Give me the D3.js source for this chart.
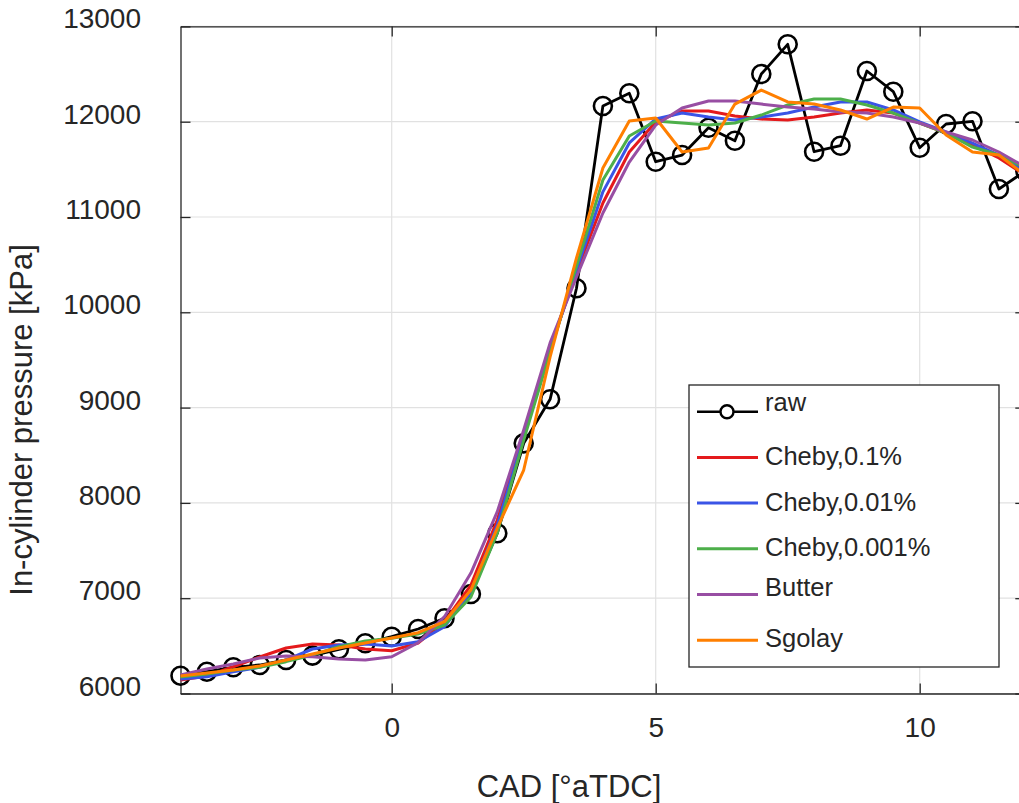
<!DOCTYPE html>
<html>
<head>
<meta charset="UTF-8">
<style>
  body { margin: 0; background: #fff; }
  svg { display: block; }
  text { font-family: "Liberation Sans", Arial, sans-serif; fill: #262626; }
</style>
</head>
<body>
<svg id="chart" width="1019" height="803"></svg>
<script src="https://cdn.jsdelivr.net/npm/d3@7/dist/d3.min.js"></script>
<script>
// crank angle samples [deg aTDC]
const cad = [-4, -3.5, -3, -2.5, -2, -1.5, -1, -0.5, 0, 0.5, 1, 1.5, 2, 2.5, 3, 3.5,
             4, 4.5, 5, 5.5, 6, 6.5, 7, 7.5, 8, 8.5, 9, 9.5, 10, 10.5, 11, 11.5, 12];

// measured pressure [kPa]
const raw = [6187, 6229, 6275, 6299, 6352, 6397, 6464, 6527, 6596, 6677, 6789, 7044, 7681, 8625, 9087, 10252,
             12165, 12298, 11580, 11650, 11937, 11800, 12500, 12812, 11685, 11748, 12532, 12315, 11727, 11976, 12004, 11294, 11483];

// filtered traces
const cheby01 = [6142, 6184, 6281, 6383, 6477, 6519, 6509, 6467, 6449, 6530, 6753, 7138, 7820, 8733, 9625, 10423,
                 11147, 11682, 11997, 12112, 12112, 12060, 12028, 12018, 12049, 12091, 12123, 12091, 11986, 11881, 11755, 11619, 11440];
const cheby001 = [6152, 6176, 6229, 6275, 6352, 6467, 6509, 6519, 6498, 6544, 6701, 7065, 7768, 8690, 9604, 10445,
                  11264, 11777, 12029, 12091, 12049, 12018, 12049, 12091, 12154, 12207, 12207, 12123, 11997, 11892, 11776, 11650, 11472];
const cheby0001 = [6173, 6205, 6247, 6275, 6334, 6404, 6491, 6551, 6579, 6624, 6719, 7013, 7684, 8659, 9583, 10485,
                   11388, 11850, 12007, 11986, 11965, 11986, 12070, 12175, 12238, 12238, 12175, 12091, 11986, 11881, 11734, 11650, 11514];
const butter = [6194, 6257, 6310, 6373, 6394, 6386, 6362, 6352, 6386, 6533, 6806, 7264, 7908, 8765, 9679, 10371,
                11042, 11577, 11965, 12143, 12217, 12217, 12185, 12154, 12133, 12101, 12091, 12049, 11986, 11892, 11808, 11682, 11524];
const sgolay = [6184, 6215, 6247, 6289, 6352, 6415, 6477, 6530, 6582, 6638, 6753, 7086, 7737, 8345, 9532, 10570,
                11514, 12007, 12039, 11682, 11724, 12185, 12332, 12207, 12185, 12123, 12028, 12154, 12144, 11860, 11682, 11650, 11440];

const seriesNames = ["raw", "Cheby,0.1%", "Cheby,0.01%", "Cheby,0.001%", "Butter", "Sgolay"];
const seriesColors = ["#000000", "#e41a1c", "#3a54e6", "#4daf4a", "#984ea3", "#ff7f00"];

const xTicks = [0, 5, 10];
const yTicks = [6000, 7000, 8000, 9000, 10000, 11000, 12000, 13000];

const series = [raw, cheby01, cheby001, cheby0001, butter, sgolay];

// axes box (right edge sits just past the window, like the original crop)
const L = 180.5, R = 1025.3, T = 26.4, B = 693.5;

const x = d3.scaleLinear().domain([-4, 12]).range([L, R]);
const y = d3.scaleLinear().domain([6000, 13000]).range([B, T]);

const svg = d3.select("#chart");
svg.append("rect").attr("width", 1019).attr("height", 803).attr("fill", "#fff");

// grid
const grid = svg.append("g").attr("stroke", "#e1e1e1").attr("stroke-width", 1.2);
grid.selectAll(".gx").data(xTicks).join("line")
    .attr("x1", d => x(d)).attr("x2", d => x(d)).attr("y1", T).attr("y2", B);
grid.selectAll(".gy").data(yTicks).join("line")
    .attr("x1", L).attr("x2", R).attr("y1", d => y(d)).attr("y2", d => y(d));

// axes with inward ticks
const axisColor = "#262626";
function styleAxis(g) {
  g.select(".domain").attr("stroke", axisColor).attr("stroke-width", 1.3);
  g.selectAll(".tick line").attr("stroke", axisColor).attr("stroke-width", 1.3);
  g.selectAll("text").attr("font-size", 28).attr("font-family", null).attr("fill", axisColor);
}

svg.append("g").attr("transform", `translate(0,${B})`)
  .call(d3.axisBottom(x).tickValues(xTicks).tickSize(-10).tickSizeOuter(0).tickPadding(0))
  .call(styleAxis)
  .call(g => g.selectAll("text").attr("dy", 0).attr("y", 43.5));

svg.append("g").attr("transform", `translate(0,${T})`)
  .call(d3.axisTop(x).tickValues(xTicks).tickSize(-10).tickSizeOuter(0).tickFormat(""))
  .call(styleAxis);

svg.append("g").attr("transform", `translate(${L},0)`)
  .call(d3.axisLeft(y).tickValues(yTicks).tickSize(-10).tickSizeOuter(0).tickPadding(39.5).tickFormat(d3.format("d")))
  .call(styleAxis)
  .call(g => g.selectAll("text").attr("dy", 1.5));

svg.append("g").attr("transform", `translate(${R},0)`)
  .call(d3.axisRight(y).tickValues(yTicks).tickSize(-10).tickSizeOuter(0).tickFormat(""))
  .call(styleAxis);

// curves
const line = d3.line().x((d, i) => x(cad[i])).y(d => y(d));

svg.append("path").datum(raw)
  .attr("d", line).attr("fill", "none")
  .attr("stroke", seriesColors[0]).attr("stroke-width", 2.8).attr("stroke-linejoin", "round");

svg.append("g").selectAll("circle").data(raw).join("circle")
  .attr("cx", (d, i) => x(cad[i])).attr("cy", d => y(d)).attr("r", 9)
  .attr("fill", "none").attr("stroke", seriesColors[0]).attr("stroke-width", 2.6);

series.slice(1).forEach((s, k) => {
  svg.append("path").datum(s)
    .attr("d", line).attr("fill", "none")
    .attr("stroke", seriesColors[k + 1]).attr("stroke-width", 3).attr("stroke-linejoin", "round");
});

// axis labels
svg.append("text").attr("x", 569).attr("y", 797).attr("text-anchor", "middle")
  .attr("font-size", 31).text("CAD [°aTDC]");

svg.append("text").attr("transform", "translate(32,420) rotate(-90)").attr("text-anchor", "middle")
  .attr("font-size", 31).text("In-cylinder pressure [kPa]");

// legend
const lg = svg.append("g");
lg.append("rect").attr("x", 689).attr("y", 385).attr("width", 310).attr("height", 282)
  .attr("fill", "#fff").attr("stroke", axisColor).attr("stroke-width", 1.3);

const textDy = [-1, 8, 7.7, 6.7, 1.7, 7];   // matlab legend text sits a bit off its line
const items = lg.selectAll(".item").data(seriesNames).join("g")
  .attr("transform", (d, i) => `translate(0,${411.7 + i * 45.7})`);

items.append("line").attr("x1", 697).attr("x2", 758).attr("y1", 0).attr("y2", 0)
  .attr("stroke", (d, i) => seriesColors[i]).attr("stroke-width", (d, i) => i === 0 ? 2.6 : 3);

items.filter((d, i) => i === 0).append("circle")
  .attr("cx", 727).attr("cy", 0).attr("r", 6.5)
  .attr("fill", "#fff").attr("stroke", "#000").attr("stroke-width", 2.4);

items.append("text").attr("x", 765).attr("y", (d, i) => textDy[i])
  .attr("font-size", 25.5).attr("fill", "#000").text(d => d);
</script>
</body>
</html>
